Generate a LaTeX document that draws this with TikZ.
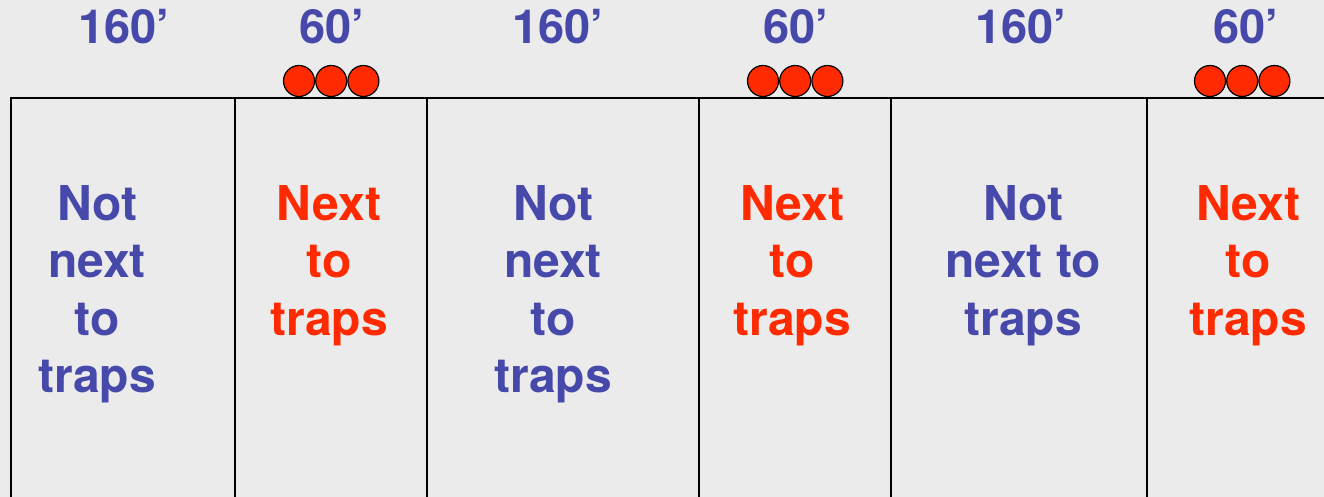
\documentclass[tikz,border=0pt]{standalone}
\usepackage{fontspec}
\setmainfont{TeX Gyre Heros}
\usetikzlibrary{positioning}
\definecolor{trapblue}{RGB}{70,72,170}
\definecolor{trapred}{RGB}{255,42,0}
\definecolor{fieldgray}{RGB}{235,235,235}
\tikzset{
  zone/.style={font=\fontsize{48}{57.5}\selectfont\bfseries,align=center,anchor=north,inner sep=0pt},
  far/.style={zone,text=trapblue},
  near/.style={zone,text=trapred},
  width label/.style={font=\fontsize{47}{56}\selectfont\bfseries,text=trapblue,anchor=base,inner sep=0pt},
  trap/.style={circle,draw=black,line width=1.2pt,fill=trapred,minimum size=31pt,inner sep=0pt},
  wall/.style={line width=2pt},
}
\begin{document}
\begin{tikzpicture}[x=1pt,y=-1pt]
  \fill[fieldgray] (0,0) rectangle (1324,497);
  \useasboundingbox (0,0) rectangle (1324,497);
  % strip widths
  \node[width label] (w1) at (124,44) {160’};
  \node[width label] (w2) at (332,44) {60’};
  \node[width label] (w3) at (558,44) {160’};
  \node[width label] (w4) at (796,44) {60’};
  \node[width label] (w5) at (1021,44) {160’};
  \node[width label] (w6) at (1246,44) {60’};
  % traps
  \node[trap] (t1a) at (299,81) {};
  \node[trap,right=0pt of t1a] (t1b) {};
  \node[trap,right=0pt of t1b] (t1c) {};
  \node[trap] (t2a) at (763,81) {};
  \node[trap,right=0pt of t2a] (t2b) {};
  \node[trap,right=0pt of t2b] (t2c) {};
  \node[trap] (t3a) at (1210,81) {};
  \node[trap,right=0pt of t3a] (t3b) {};
  \node[trap,right=0pt of t3b] (t3c) {};
  % strips
  \draw[wall] (11,497) |- (1324,98);
  \draw[wall] (235,98) -- (235,497);
  \draw[wall] (427,98) -- (427,497);
  \draw[wall] (699,98) -- (699,497);
  \draw[wall] (891,98) -- (891,497);
  \draw[wall] (1147,98) -- (1147,497);
  \node[far] (z1) at (97,185) {Not\\next\\to\\traps};
  \node[near] (z2) at (329,185) {Next\\to\\traps};
  \node[far] (z3) at (553,185) {Not\\next\\to\\traps};
  \node[near] (z4) at (792,185) {Next\\to\\traps};
  \node[far] (z5) at (1023,185) {Not\\next to\\traps};
  \node[near] (z6) at (1248,185) {Next\\to\\traps};
\end{tikzpicture}
\end{document}
